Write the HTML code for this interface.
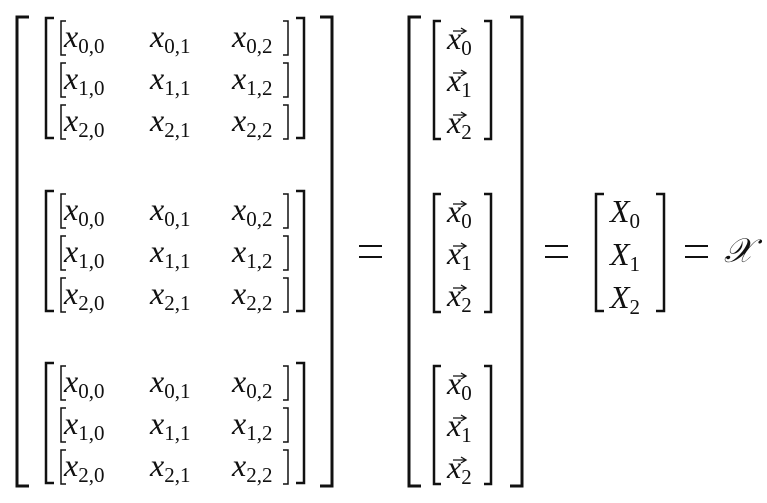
<!DOCTYPE html>
<html><head><meta charset="utf-8"><style>
html,body{margin:0;padding:0;background:#fff;}
svg{display:block}
text{font-family:"Liberation Serif",serif;fill:#111;}
.i{font-style:italic;font-size:32px}
.s{font-style:normal;font-size:21px}
</style></head><body>
<svg width="767" height="503" viewBox="0 0 767 503" xmlns="http://www.w3.org/2000/svg">
<defs>
<g id="blk">
  <path d="M54 18 H46 V138 H54" fill="none" stroke="#111" stroke-width="2.5"/>
  <path d="M296 18 H304 V138 H296" fill="none" stroke="#111" stroke-width="2.5"/>
  <path d="M66 21 H61 V55 H66 M66 63 H61 V97 H66 M66 105 H61 V139 H66" fill="none" stroke="#111" stroke-width="1.5"/>
  <path d="M283 21 H288 V55 H283 M283 63 H288 V97 H283 M283 105 H288 V139 H283" fill="none" stroke="#111" stroke-width="1.5"/>
  <g class="i">
    <text x="64" y="47">x<tspan class="s" dy="6">0,0</tspan></text>
    <text x="150" y="47">x<tspan class="s" dy="6">0,1</tspan></text>
    <text x="232" y="47">x<tspan class="s" dy="6">0,2</tspan></text>
    <text x="64" y="89">x<tspan class="s" dy="6">1,0</tspan></text>
    <text x="150" y="89">x<tspan class="s" dy="6">1,1</tspan></text>
    <text x="232" y="89">x<tspan class="s" dy="6">1,2</tspan></text>
    <text x="64" y="131">x<tspan class="s" dy="6">2,0</tspan></text>
    <text x="150" y="131">x<tspan class="s" dy="6">2,1</tspan></text>
    <text x="232" y="131">x<tspan class="s" dy="6">2,2</tspan></text>
  </g>
</g>
<g id="vb">
  <path d="M441 21 H434 V139 H441" fill="none" stroke="#111" stroke-width="2.5"/>
  <path d="M484 21 H491 V139 H484" fill="none" stroke="#111" stroke-width="2.5"/>
  <g class="i">
    <text x="447" y="49">x<tspan class="s" dy="6">0</tspan></text>
    <text x="447" y="91">x<tspan class="s" dy="6">1</tspan></text>
    <text x="447" y="133">x<tspan class="s" dy="6">2</tspan></text>
  </g>
  <path d="M453 31 H465 M461 28 L466 31 L461 34 M453 73 H465 M461 70 L466 73 L461 76 M453 115 H465 M461 112 L466 115 L461 118" fill="none" stroke="#111" stroke-width="1.3"/>
</g>
</defs>
<path d="M29 17 H17 V486 H29" fill="none" stroke="#111" stroke-width="3"/>
<path d="M320 17 H332 V486 H320" fill="none" stroke="#111" stroke-width="3"/>
<use href="#blk"/>
<use href="#blk" transform="translate(0,173)"/>
<use href="#blk" transform="translate(0,345)"/>
<path d="M359 246 H382 M359 257 H382" stroke="#111" stroke-width="2"/>
<path d="M421 17 H409 V486 H421" fill="none" stroke="#111" stroke-width="3"/>
<path d="M510 17 H522 V486 H510" fill="none" stroke="#111" stroke-width="3"/>
<use href="#vb"/>
<use href="#vb" transform="translate(0,173)"/>
<use href="#vb" transform="translate(0,345)"/>
<path d="M545 246 H568 M545 257 H568" stroke="#111" stroke-width="2"/>
<path d="M604 194 H596 V311 H604" fill="none" stroke="#111" stroke-width="2.5"/>
<path d="M656 194 H664 V311 H656" fill="none" stroke="#111" stroke-width="2.5"/>
<g class="i">
  <text x="610" y="222">X<tspan class="s" dy="6">0</tspan></text>
  <text x="610" y="265">X<tspan class="s" dy="6">1</tspan></text>
  <text x="610" y="308">X<tspan class="s" dy="6">2</tspan></text>
</g>
<path d="M685 246 H708 M685 257 H708" stroke="#111" stroke-width="2"/>
<text x="724" y="262" style="font-size:34px;font-style:italic">𝒳</text>
</svg>
</body></html>
